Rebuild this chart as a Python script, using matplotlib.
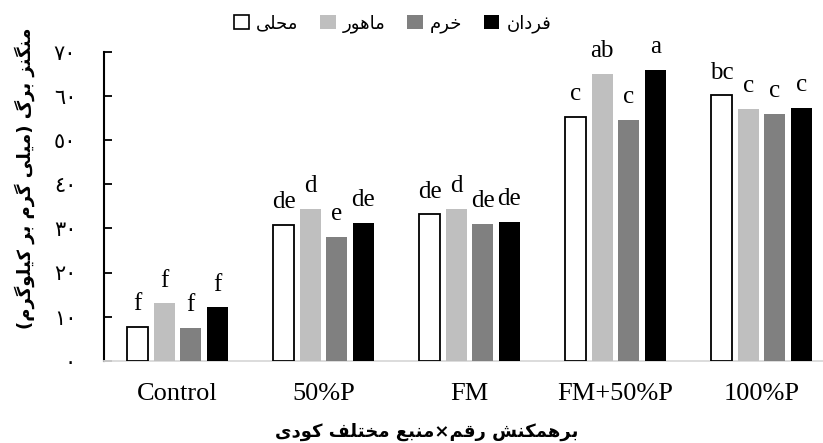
import matplotlib
matplotlib.use("Agg")
import matplotlib.pyplot as plt
from matplotlib.patches import Patch
import numpy as np

# ---- data -------------------------------------------------------------
treatments = ["Control", "50%P", "FM", "FM+50%P", "100%P"]
cultivars = ["محلی", "ماهور", "خرم", "فردان"]

local_mn = [7.7, 30.8, 33.2, 55.3, 60.2]
mahoor_mn = [13.0, 34.4, 34.4, 65.0, 57.1]
khorram_mn = [7.5, 28.1, 31.1, 54.6, 56.0]
fardan_mn = [12.1, 31.2, 31.5, 65.9, 57.3]

local_grp = ["f", "de", "de", "c", "bc"]
mahoor_grp = ["f", "d", "d", "ab", "c"]
khorram_grp = ["f", "e", "de", "c", "c"]
fardan_grp = ["f", "de", "de", "a", "c"]

y_ticks = [0, 10, 20, 30, 40, 50, 60, 70]
y_tick_labels = ["\u0660", "\u0661\u0660", "\u0662\u0660", "\u0663\u0660",
                 "\u0664\u0660", "\u0665\u0660", "\u0666\u0660", "\u0667\u0660"]

y_label = "منگنز برگ (میلی گرم بر کیلوگرم)"
x_label = "برهمکنش رقم×منبع مختلف کودی"

# ---- minimal Persian shaping (presentation forms + visual order) -------
_FORMS = {
    "\u0627": ("\uFE8D", "\uFE8E", None, None),          # alef
    "\u0628": ("\uFE8F", "\uFE90", "\uFE91", "\uFE92"),  # beh
    "\u062A": ("\uFE95", "\uFE96", "\uFE97", "\uFE98"),  # teh
    "\u062D": ("\uFEA1", "\uFEA2", "\uFEA3", "\uFEA4"),  # hah
    "\u062E": ("\uFEA5", "\uFEA6", "\uFEA7", "\uFEA8"),  # khah
    "\u062F": ("\uFEA9", "\uFEAA", None, None),          # dal
    "\u0631": ("\uFEAD", "\uFEAE", None, None),          # reh
    "\u0632": ("\uFEAF", "\uFEB0", None, None),          # zain
    "\u0634": ("\uFEB5", "\uFEB6", "\uFEB7", "\uFEB8"),  # sheen
    "\u0639": ("\uFEC9", "\uFECA", "\uFECB", "\uFECC"),  # ain
    "\u0641": ("\uFED1", "\uFED2", "\uFED3", "\uFED4"),  # feh
    "\u0642": ("\uFED5", "\uFED6", "\uFED7", "\uFED8"),  # qaf
    "\u0644": ("\uFEDD", "\uFEDE", "\uFEDF", "\uFEE0"),  # lam
    "\u0645": ("\uFEE1", "\uFEE2", "\uFEE3", "\uFEE4"),  # meem
    "\u0646": ("\uFEE5", "\uFEE6", "\uFEE7", "\uFEE8"),  # noon
    "\u0647": ("\uFEE9", "\uFEEA", "\uFEEB", "\uFEEC"),  # heh
    "\u0648": ("\uFEED", "\uFEEE", None, None),          # waw
    "\u06CC": ("\uFBFC", "\uFBFD", "\uFBFE", "\uFBFF"),  # farsi yeh
    "\u06A9": ("\uFB8E", "\uFB8F", "\uFB90", "\uFB91"),  # keheh
    "\u06AF": ("\uFB92", "\uFB93", "\uFB94", "\uFB95"),  # gaf
}
_MIRROR = {"(": ")", ")": "("}


def fa(text):
    text = text.replace("\u064A", "\u06CC").replace("\u0643", "\u06A9")
    out = []
    n = len(text)
    for i, ch in enumerate(text):
        forms = _FORMS.get(ch)
        if forms is None:
            out.append(_MIRROR.get(ch, ch))
            continue
        prev = text[i - 1] if i > 0 else ""
        nxt = text[i + 1] if i < n - 1 else ""
        joins_prev = prev in _FORMS and _FORMS[prev][2] is not None
        joins_next = forms[2] is not None and nxt in _FORMS
        if joins_prev and joins_next:
            out.append(forms[3])
        elif joins_prev:
            out.append(forms[1])
        elif joins_next:
            out.append(forms[2])
        else:
            out.append(forms[0])
    return "".join(reversed(out))


# ---- figure ------------------------------------------------------------
W, H = 823, 443
fig = plt.figure(figsize=(W / 100, H / 100), dpi=100)
ax = fig.add_axes([104 / W, (H - 360.7) / H, 1 - 104 / W, (360.7 - 52) / H])

serif = ["Liberation Serif", "DejaVu Serif"]
arabic = ["DejaVu Sans"]

x = np.arange(len(treatments))
step = 0.1815
width = 0.146
series = [
    (local_mn, local_grp, "white", "black", 1.3),
    (mahoor_mn, mahoor_grp, "#BFBFBF", "#BFBFBF", 0.0),
    (khorram_mn, khorram_grp, "#808080", "#808080", 0.0),
    (fardan_mn, fardan_grp, "black", "black", 0.0),
]
handles = []
for k, (vals, grps, fc, ec, lw) in enumerate(series):
    pos = x + (k - 1.5) * step
    bars = ax.bar(pos, vals, width, color=fc, edgecolor=ec, linewidth=lw, zorder=3)
    for b, g in zip(bars, grps):
        ax.annotate(g, (b.get_x() + b.get_width() / 2, b.get_height()),
                    xytext=(0, 12), textcoords="offset points",
                    ha="center", va="baseline", fontsize=18, family=serif)
    handles.append(Patch(facecolor=fc, edgecolor="black" if fc == "white" else ec,
                         linewidth=1.2 if fc == "white" else 0))

ax.set_xlim(-0.503, -0.503 + (W - 104) / 146)
ax.set_ylim(0, 70)
ax.set_xticks(x)
ax.set_xticklabels(treatments, fontsize=19, family=serif)
ax.set_yticks(y_ticks)
ax.set_yticklabels(y_tick_labels, fontsize=15, family=arabic)
ax.tick_params(axis="x", length=0, pad=16)
ax.tick_params(axis="y", direction="in", length=6, width=1.3, pad=20)

for side in ("top", "right"):
    ax.spines[side].set_visible(False)
ax.spines["left"].set_linewidth(1.5)
ax.spines["bottom"].set_color("#D9D9D9")
ax.spines["bottom"].set_linewidth(1.3)

fig.text(25 / W, 1 - 178 / H, fa(y_label), rotation=90, ha="center", va="center",
         fontsize=13, fontweight="bold", family=arabic)
fig.text(427 / W, 1 - 432 / H, fa(x_label), ha="center", va="center",
         fontsize=13, fontweight="bold", family=arabic)

fig.legend(handles, [fa(c) for c in cultivars], ncol=4, loc="center",
           bbox_to_anchor=(392.5 / W, 1 - 23.5 / H), frameon=False,
           prop={"family": arabic, "size": 13}, handlelength=0.85, handleheight=0.85,
           handletextpad=0.4, columnspacing=1.2, borderaxespad=0, borderpad=0)

fig.savefig("out.png", dpi=100)
